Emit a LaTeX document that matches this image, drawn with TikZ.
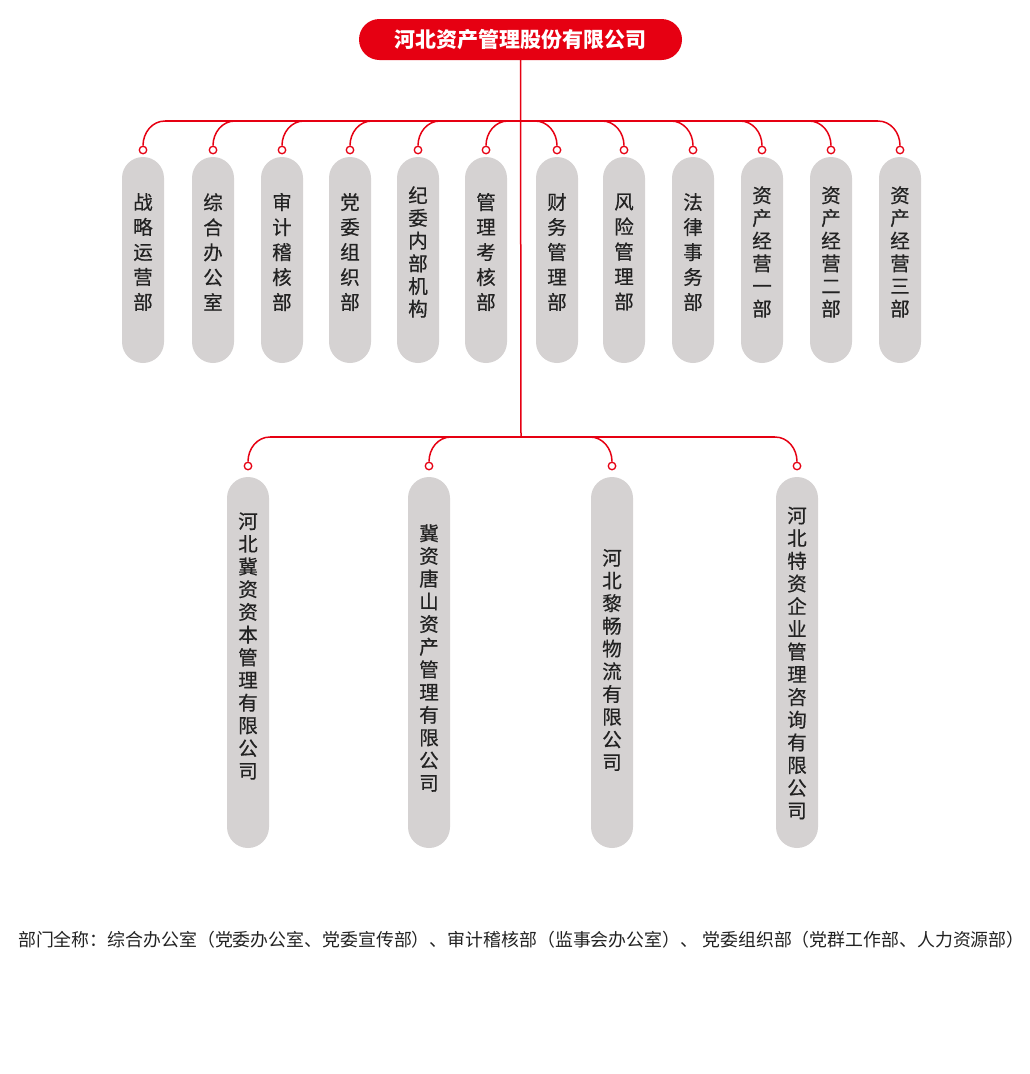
\documentclass[tikz,border=0pt]{standalone}
\usepackage{fontspec}
\setmainfont{Noto Sans CJK SC}
\newfontfamily\pillfont{Noto Sans CJK SC}[FakeBold=0.5]
\usepackage{tikz}

\definecolor{hbred}{HTML}{E60012}
\definecolor{pillgray}{HTML}{D5D2D2}
\definecolor{inkgray}{HTML}{222222}

\tikzset{
	pill/.style={fill=pillgray, rounded corners=21pt, minimum width=42pt, inner sep=0pt},
	pilltext/.style={text=inkgray, align=center, inner sep=0pt},
	hook/.style={circle, draw=hbred, fill=white, line width=1.3pt, minimum size=7.5pt, inner sep=0pt},
	link/.style={draw=hbred, line width=1.5pt},
}

\begin{document}
\begin{tikzpicture}[x=1pt, y=-1pt]
	\useasboundingbox (0,0) rectangle (1030,1074);

	\node[fill=hbred, rounded corners=20.5pt, minimum width=323pt, minimum height=41pt, text=white, font=\fontsize{21}{21}\selectfont\bfseries] (top) at (520.5,39.5) {河北资产管理股份有限公司};
	\coordinate (hub) at (521,437);
	\draw[link] (top.south) -- (hub);

					% departments
	\foreach \i/\x/\p/\t in {1/143/25/{战\\略\\运\\营\\部}, 2/213/25/{综\\合\\办\\公\\室}, 3/282/25/{审\\计\\稽\\核\\部}, 4/350/25/{党\\委\\组\\织\\部}, 5/418/22.7/{纪\\委\\内\\部\\机\\构}, 6/486/25/{管\\理\\考\\核\\部}, 7/557/25/{财\\务\\管\\理\\部}, 8/624/25/{风\\险\\管\\理\\部}, 9/693/25/{法\\律\\事\\务\\部}, 10/762/22.7/{资\\产\\经\\营\\一\\部}, 11/831/22.7/{资\\产\\经\\营\\二\\部}, 12/900/22.7/{资\\产\\经\\营\\三\\部}}
	{
		\pgfmathsetmacro\sg{ifthenelse(\x<521,1,-1)}
		\pgfmathsetmacro\ang{90+90*\sg}
		\node[pill, minimum height=206pt] (d\i) at (\x,260) {};
		\node[pilltext, font=\pillfont\fontsize{19.5}{\p}\selectfont] (dt\i) at (\x,252) {\t};
		\node[hook] (dh\i) at (\x,150) {};
		\coordinate (ds\i) at (\x+22*\sg,121);
		\draw[link] (ds\i) to[out=\ang, in=90] (dh\i.north);
	}
	\draw[link] (ds1) -- (ds12);

					% subsidiaries
	\foreach \i/\x/\y/\t in {1/248/646/{河\\北\\冀\\资\\资\\本\\管\\理\\有\\限\\公\\司}, 2/429/658/{冀\\资\\唐\\山\\资\\产\\管\\理\\有\\限\\公\\司}, 3/612/660/{河\\北\\黎\\畅\\物\\流\\有\\限\\公\\司}, 4/797/663/{河\\北\\特\\资\\企\\业\\管\\理\\咨\\询\\有\\限\\公\\司}}
	{
		\pgfmathsetmacro\sg{ifthenelse(\x<521,1,-1)}
		\pgfmathsetmacro\ang{90+90*\sg}
		\node[pill, minimum height=371pt] (c\i) at (\x,662.5) {};
		\node[pilltext, font=\pillfont\fontsize{19.5}{22.7}\selectfont] (ct\i) at (\x,\y) {\t};
		\node[hook] (ch\i) at (\x,466) {};
		\coordinate (cs\i) at (\x+22*\sg,437);
		\draw[link] (cs\i) to[out=\ang, in=90] (ch\i.north);
	}
	\draw[link] (cs1) -- (cs4);

	\node[anchor=west, inner sep=0pt, text=inkgray, font=\fontsize{17.9}{20}\selectfont] (note) at (18,939.5) {部门全称：综合办公室（党委办公室、党委宣传部）、审计稽核部（监事会办公室）、 党委组织部（党群工作部、人力资源部）};
\end{tikzpicture}
\end{document}
